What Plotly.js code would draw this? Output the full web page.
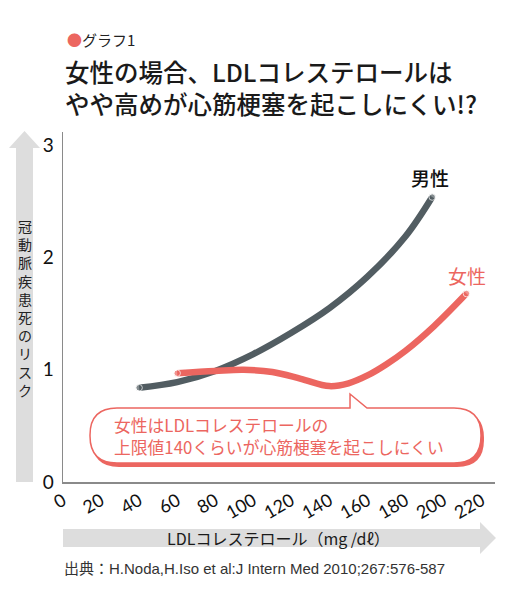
<!DOCTYPE html>
<html>
<head>
<meta charset="utf-8">
<script src="https://cdn.plot.ly/plotly-3.0.1.min.js"></script>
<style>
  body { margin: 0; background: #fff; }
  #chart { width: 517px; height: 600px; }
</style>
</head>
<body>
<div id="chart"></div>
<script>
// values
const maleX = [40, 60, 80, 100, 120, 140, 160, 180, 194];
const maleY = [0.84, 0.89, 0.99, 1.14, 1.33, 1.55, 1.83, 2.19, 2.54];
const femaleX = [60, 80, 95, 110, 125, 140, 150, 160, 170, 180, 195, 212];
const femaleY = [0.97, 0.99, 1.0, 0.98, 0.92, 0.855, 0.88, 0.95, 1.05, 1.17, 1.39, 1.68];
const xTicks = [0, 20, 40, 60, 80, 100, 120, 140, 160, 180, 200, 220];
const yTicks = [0, 1, 2, 3];

const RED = '#ec6660';
const GRAY = '#525d62';
const ARROW = '#dddddd';
const JP = '"Noto Sans CJK JP", "Noto Sans", sans-serif';

const W = 517, H = 600;
const M = {l: 63, r: 22, t: 132, b: 118};
const PW = W - M.l - M.r, PH = H - M.t - M.b;

// pixel -> paper coords
const px = v => (v - M.l) / PW;
const py = v => (H - M.b - v) / PH;
const P = (x, y) => px(x).toFixed(4) + ',' + py(y).toFixed(4);

function roundBox(x0, y0, x1, y1, r, notch) {
  let d = 'M' + P(x0 + r, y0);
  if (notch) {
    d += ' L' + P(notch[0], y0) + ' L' + P(notch[0], notch[1]) + ' L' + P(notch[2], y0);
  }
  d += ' L' + P(x1 - r, y0) + ' Q' + P(x1, y0) + ' ' + P(x1, y0 + r);
  d += ' L' + P(x1, y1 - r) + ' Q' + P(x1, y1) + ' ' + P(x1 - r, y1);
  d += ' L' + P(x0 + r, y1) + ' Q' + P(x0, y1) + ' ' + P(x0, y1 - r);
  d += ' L' + P(x0, y0 + r) + ' Q' + P(x0, y0) + ' ' + P(x0 + r, y0) + ' Z';
  return d;
}

function endCaps(arr, size) {
  return arr.map((_, i) => (i === 0 || i === arr.length - 1) ? size : 0);
}

const data = [
  {
    x: maleX, y: maleY, name: '男性',
    mode: 'lines+markers',
    line: {shape: 'spline', smoothing: 1, color: GRAY, width: 6.5},
    marker: {size: endCaps(maleX, 6.5), color: GRAY},
    hoverinfo: 'skip'
  },
  {
    x: femaleX, y: femaleY, name: '女性',
    mode: 'lines+markers',
    line: {shape: 'spline', smoothing: 1, color: RED, width: 6.5},
    marker: {size: endCaps(femaleX, 6.5), color: RED},
    hoverinfo: 'skip'
  }
];

const shapes = [
  // y arrow
  {type: 'path', xref: 'paper', yref: 'paper', layer: 'below', line: {width: 0}, fillcolor: ARROW,
   path: 'M' + P(16, 482) + ' L' + P(16, 148) + ' L' + P(9, 148) + ' L' + P(24.5, 131) +
         ' L' + P(40, 148) + ' L' + P(33, 148) + ' L' + P(33, 482) + ' Z'},
  // x arrow
  {type: 'path', xref: 'paper', yref: 'paper', layer: 'below', line: {width: 0}, fillcolor: ARROW,
   path: 'M' + P(63, 529) + ' L' + P(480, 529) + ' L' + P(480, 522) + ' L' + P(496, 538) +
         ' L' + P(480, 554) + ' L' + P(480, 547) + ' L' + P(63, 547) + ' Z'},
  // callout shadow
  {type: 'path', xref: 'paper', yref: 'paper', layer: 'above', line: {width: 0}, fillcolor: RED,
   path: roundBox(92, 411, 484, 467, 27)},
  // callout
  {type: 'path', xref: 'paper', yref: 'paper', layer: 'above', line: {width: 1.5, color: RED}, fillcolor: '#ffffff',
   path: roundBox(90, 408, 481, 463, 27, [350, 394, 367])}
];

const annotations = [
  {text: '<span style="color:' + RED + '">●</span>グラフ1', x: px(65), y: py(40), xanchor: 'left', yanchor: 'middle',
   font: {family: JP, size: 15, color: '#222'}},
  {text: '女性の場合、LDLコレステロールは<br>やや高めが心筋梗塞を起こしにくい!?', x: px(63), y: py(87), xanchor: 'left', yanchor: 'middle',
   align: 'left', font: {family: JP, size: 24.5, color: '#1a1a1a', weight: 500}},
  {text: '男性', x: px(430), y: py(177), xanchor: 'center', yanchor: 'middle',
   font: {family: JP, size: 19, color: '#111', weight: 500}},
  {text: '女性', x: px(467), y: py(275), xanchor: 'center', yanchor: 'middle',
   font: {family: JP, size: 19, color: RED}},
  {text: '女性はLDLコレステロールの', x: px(112), y: py(425), xanchor: 'left', yanchor: 'middle',
   font: {family: JP, size: 16.8, color: RED}},
  {text: '上限値140くらいが心筋梗塞を起こしにくい', x: px(112), y: py(447), xanchor: 'left', yanchor: 'middle',
   font: {family: JP, size: 16.8, color: RED}},
  {text: 'LDLコレステロール（mg /dℓ）', x: px(278), y: py(538), xanchor: 'center', yanchor: 'middle',
   font: {family: JP, size: 16, color: '#1a1a1a'}},
  {text: '出典：H.Noda,H.Iso et al:J Intern Med 2010;267:576-587', x: px(62), y: py(568), xanchor: 'left', yanchor: 'middle',
   font: {family: '"Liberation Sans", "Noto Sans CJK JP", sans-serif', size: 15, color: '#333'}},
  // vertical y-axis title, one character per row
  {text: [...'冠動脈疾患死のリスク'].join('<br>'), x: px(24.5), y: py(308), xanchor: 'center', yanchor: 'middle',
   font: {family: JP, size: 14, color: '#222'}}
];
annotations.forEach(a => { a.xref = 'paper'; a.yref = 'paper'; a.showarrow = false; });

const layout = {
  width: W, height: H,
  margin: M,
  paper_bgcolor: '#fff',
  plot_bgcolor: '#fff',
  showlegend: false,
  xaxis: {
    range: [0, 227],
    tickvals: xTicks,
    tickangle: -30,
    ticks: '',
    showgrid: false, zeroline: false,
    showline: true, linecolor: '#8a8a8a', linewidth: 1.5,
    tickfont: {family: 'Lato, "Noto Sans", sans-serif', size: 18, color: '#111'}
  },
  yaxis: {
    range: [0, 3.12],
    tickvals: yTicks,
    ticks: '',
    showgrid: false, zeroline: false,
    showline: true, linecolor: '#8a8a8a', linewidth: 1.5,
    ticklabelstandoff: 4,
    tickfont: {family: 'Lato, "Noto Sans", sans-serif', size: 19, color: '#111'}
  },
  shapes: shapes,
  annotations: annotations
};

Plotly.newPlot('chart', data, layout, {displayModeBar: false, staticPlot: true});
</script>
</body>
</html>
